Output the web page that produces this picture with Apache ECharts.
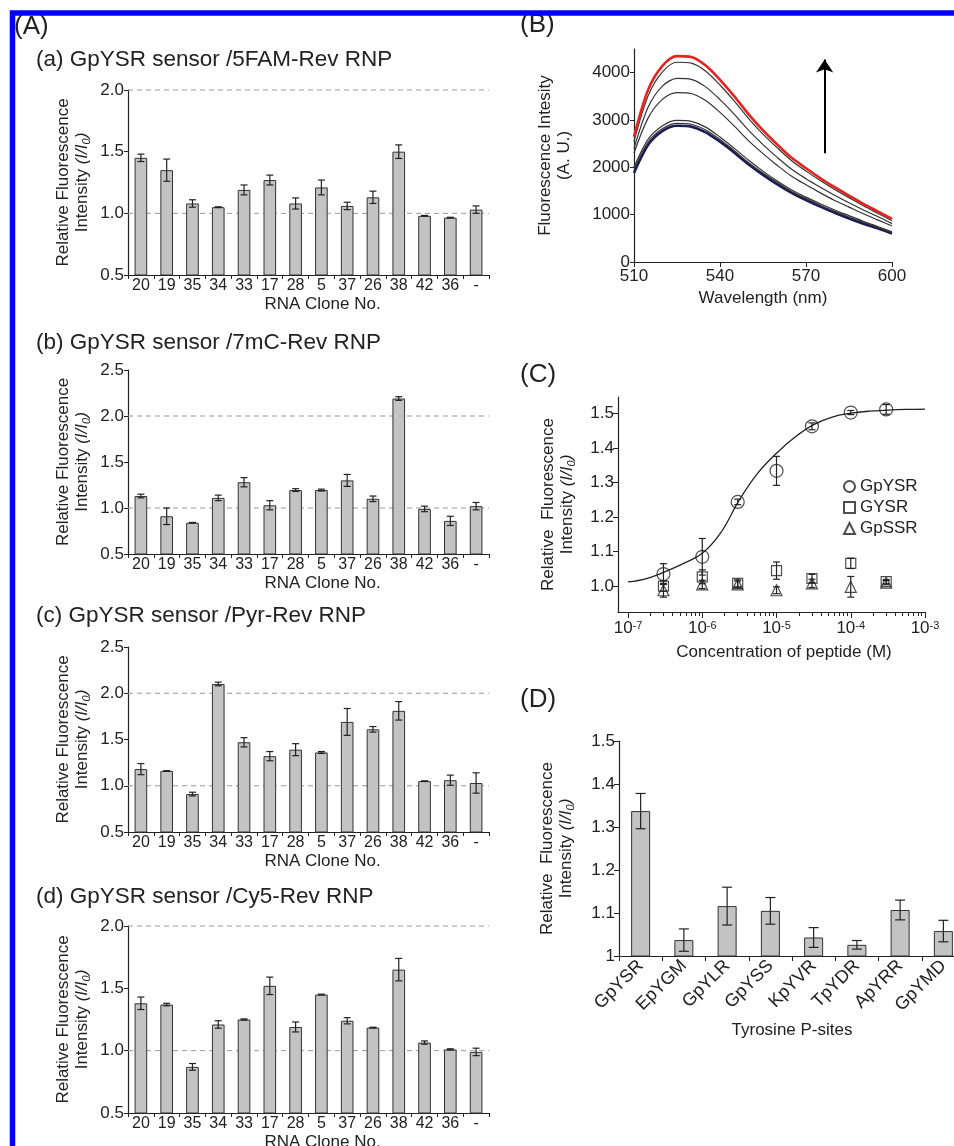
<!DOCTYPE html>
<html>
<head>
<meta charset="utf-8">
<script src="https://cdn.jsdelivr.net/npm/echarts@6/dist/echarts.min.js"></script>
<style>
  html, body { margin: 0; padding: 0; background: #fff; }
  #chart { width: 954px; height: 1146px; }
</style>
</head>
<body>
<div id="chart"></div>
<script>
// ---- (A) RNA clone screening, four sensors ----
var clones = ['20', '19', '35', '34', '33', '17', '28', '5', '37', '26', '38', '42', '36', '-'];
var famMean = [1.45, 1.35, 1.08, 1.05, 1.19, 1.27, 1.08, 1.21, 1.06, 1.13, 1.50, 0.98, 0.965, 1.03];
var famErr = [0.03, 0.09, 0.03, 0.003, 0.04, 0.04, 0.045, 0.06, 0.03, 0.05, 0.055, 0.003, 0.003, 0.03];
var mcMean = [1.13, 0.91, 0.84, 1.11, 1.28, 1.03, 1.195, 1.195, 1.30, 1.10, 2.19, 0.99, 0.86, 1.02];
var mcErr = [0.02, 0.09, 0.003, 0.03, 0.05, 0.05, 0.015, 0.01, 0.065, 0.03, 0.02, 0.03, 0.05, 0.04];
var pyrMean = [1.18, 1.16, 0.91, 2.10, 1.47, 1.32, 1.39, 1.36, 1.69, 1.61, 1.81, 1.05, 1.06, 1.03];
var pyrErr = [0.06, 0.003, 0.02, 0.02, 0.05, 0.05, 0.065, 0.01, 0.145, 0.03, 0.10, 0.003, 0.055, 0.11];
var cy5Mean = [1.38, 1.37, 0.87, 1.21, 1.25, 1.52, 1.19, 1.45, 1.24, 1.185, 1.65, 1.065, 1.01, 0.99];
var cy5Err = [0.05, 0.01, 0.027, 0.03, 0.005, 0.07, 0.04, 0.003, 0.025, 0.003, 0.09, 0.013, 0.005, 0.03];
var refLevels = [1.0, 2.0];

// ---- (B) emission spectra ----
var wavelength = [510, 515, 520, 525, 530, 535, 540, 545, 550, 555, 560, 565, 570, 575, 580, 585, 590, 595, 600];
var spec1 = [1880, 2480, 2770, 2880, 2860, 2740, 2540, 2310, 2060, 1840, 1640, 1460, 1310, 1170, 1040, 920, 810, 710, 600];
var spec2 = [1950, 2540, 2820, 2930, 2910, 2790, 2590, 2350, 2100, 1880, 1680, 1490, 1340, 1200, 1070, 950, 840, 730, 620];
var spec3 = [2000, 2600, 2880, 2990, 2970, 2850, 2640, 2400, 2150, 1920, 1710, 1520, 1370, 1230, 1100, 980, 860, 750, 640];
var spec4 = [2300, 3050, 3440, 3580, 3560, 3410, 3160, 2870, 2560, 2290, 2040, 1810, 1630, 1460, 1300, 1160, 1020, 890, 760];
var spec5 = [2400, 3280, 3720, 3880, 3860, 3700, 3430, 3120, 2780, 2480, 2210, 1960, 1760, 1580, 1410, 1250, 1100, 960, 810];
var spec6 = [2550, 3520, 4020, 4220, 4200, 4030, 3740, 3400, 3030, 2700, 2410, 2140, 1920, 1720, 1530, 1360, 1190, 1030, 870];
var spec7 = [2650, 3650, 4150, 4350, 4330, 4150, 3850, 3500, 3120, 2780, 2480, 2200, 1980, 1770, 1580, 1400, 1230, 1070, 910];
var specTicks = [0, 1000, 2000, 3000, 4000];
var arrowX = 576.5, arrowY = [2300, 4280];

// ---- (C) titration ----
var peptideConc = [3e-7, 1e-6, 3e-6, 1e-5, 3e-5, 1e-4, 3e-4];
var gpysrMean = [1.035, 1.085, 1.244, 1.334, 1.463, 1.503, 1.512];
var gpysrErr = [0.03, 0.053, 0.008, 0.042, 0.01, 0.006, 0.014];
var gysrMean = [1.0, 1.027, 1.008, 1.045, 1.022, 1.066, 1.013];
var gysrErr = [0.015, 0.02, 0.01, 0.025, 0.012, 0.015, 0.006];
var gpssrMean = [0.988, 1.005, 1.005, 0.988, 1.008, 0.998, 1.01];
var gpssrErr = [0.02, 0.012, 0.01, 0.01, 0.012, 0.03, 0.006];
var fitLogConc = [-7, -6.75, -6.5, -6.25, -6, -5.75, -5.5, -5.25, -5, -4.75, -4.5, -4.25, -4, -3.75, -3.5, -3.25, -3];
var fitValue = [1.012, 1.022, 1.042, 1.066, 1.095, 1.155, 1.25, 1.328, 1.385, 1.432, 1.468, 1.49, 1.501, 1.507, 1.51, 1.512, 1.513];
var concExp = [-7, -6, -5, -4, -3];
var riTicks = [1.0, 1.1, 1.2, 1.3, 1.4, 1.5];

// ---- (D) tyrosine P-sites ----
var sites = ['GpYSR', 'EpYGM', 'GpYLR', 'GpYSS', 'KpYVR', 'TpYDR', 'ApYRR', 'GpYMD'];
var siteMean = [1.337, 1.037, 1.116, 1.105, 1.043, 1.026, 1.107, 1.058];
var siteErr = [0.041, 0.026, 0.044, 0.031, 0.023, 0.01, 0.023, 0.025];

var FONT = '"Liberation Sans", Arial, Helvetica, sans-serif';
var INK = '#222';
var BAR = '#c3c3c3';

var myechart = echarts.init(document.getElementById('chart'));

// y axis title with italic I/I0
var riName = 'Relative Fluorescence\n{n|Intensity }{i|(I/I}{s|0}{i|)}';
var riName2 = 'Relative  Fluorescence\n{n|Intensity }{i|(I/I}{s|0}{i|)}';
var riRich = {
  n: { fontSize: 17, lineHeight: 19, color: INK },
  i: { fontSize: 17, lineHeight: 19, fontStyle: 'italic', color: INK },
  s: { fontSize: 11, lineHeight: 11, fontStyle: 'italic', verticalAlign: 'bottom', color: INK }
};

function lineStyleInk() {
  return { stroke: INK, lineWidth: 1.2, fill: null };
}

// error bar drawn through the axes of its grid
function errorBar(cap) {
  return function (params, api) {
    var x = api.value(0), m = api.value(1), e = api.value(2);
    var hi = api.coord([x, m + e]);
    var lo = api.coord([x, m - e]);
    return {
      type: 'group',
      children: [
        { type: 'line', shape: { x1: hi[0], y1: hi[1], x2: lo[0], y2: lo[1] }, style: lineStyleInk() },
        { type: 'line', shape: { x1: hi[0] - cap, y1: hi[1], x2: hi[0] + cap, y2: hi[1] }, style: lineStyleInk() },
        { type: 'line', shape: { x1: lo[0] - cap, y1: lo[1], x2: lo[0] + cap, y2: lo[1] }, style: lineStyleInk() }
      ]
    };
  };
}

// dashed reference line across the grid
function refLine(params, api) {
  var y = api.coord([0, api.value(1)])[1];
  var cs = params.coordSys;
  return {
    type: 'line',
    shape: { x1: cs.x, y1: y, x2: cs.x + cs.width, y2: y },
    style: { stroke: '#999', lineWidth: 1, lineDash: [5, 4], fill: null }
  };
}

var barPanels = [
  { title: '(a) GpYSR sensor /5FAM-Rev RNP', mean: famMean, err: famErr, max: 2.0, top: 90, height: 185, titleTop: 48 },
  { title: '(b) GpYSR sensor /7mC-Rev RNP', mean: mcMean, err: mcErr, max: 2.5, top: 370, height: 184, titleTop: 331 },
  { title: '(c) GpYSR sensor /Pyr-Rev RNP', mean: pyrMean, err: pyrErr, max: 2.5, top: 647, height: 185, titleTop: 604 },
  { title: '(d) GpYSR sensor /Cy5-Rev RNP', mean: cy5Mean, err: cy5Err, max: 2.0, top: 926, height: 187, titleTop: 885 }
];

var grid = [], xAxis = [], yAxis = [], series = [], graphic = [];

barPanels.forEach(function (p, k) {
  grid.push({ left: 128, top: p.top, width: 361, height: p.height, outerBoundsMode: 'none' });
  xAxis.push({
    type: 'category', gridIndex: k, data: clones,
    name: 'RNA Clone No.', nameLocation: 'middle', nameGap: 21,
    nameTextStyle: { fontSize: 17, color: INK, padding: [0, 0, 0, 28] },
    axisLine: { show: true, lineStyle: { color: INK, width: 1.2 } },
    axisTick: { show: true, alignWithLabel: false, length: 4, lineStyle: { color: INK } },
    axisLabel: { interval: 0, fontSize: 16, margin: 3, color: INK },
    splitLine: { show: false }
  });
  yAxis.push({
    type: 'value', gridIndex: k, min: 0.5, max: p.max, interval: 0.5,
    name: riName, nameLocation: 'middle', nameGap: 36,
    nameTextStyle: { fontSize: 17, lineHeight: 19, color: INK, rich: riRich },
    axisLine: { show: true, lineStyle: { color: INK, width: 1.2 } },
    axisTick: { show: true, length: 4, lineStyle: { color: INK } },
    axisLabel: { fontSize: 17, margin: 4, color: INK, formatter: function (v) { return v.toFixed(1); } },
    splitLine: { show: false }
  });
  series.push({
    type: 'custom', xAxisIndex: k, yAxisIndex: k, z: 1, silent: true,
    renderItem: refLine,
    data: refLevels.map(function (v) { return [0, v]; })
  });
  series.push({
    type: 'bar', xAxisIndex: k, yAxisIndex: k, z: 2, barWidth: '49%',
    itemStyle: { color: BAR, borderColor: '#333', borderWidth: 1 },
    data: p.mean
  });
  series.push({
    type: 'custom', xAxisIndex: k, yAxisIndex: k, z: 3, silent: true,
    renderItem: errorBar(3.5),
    data: p.mean.map(function (v, i) { return [i, v, p.err[i]]; })
  });
  graphic.push({ type: 'text', left: 36, top: p.titleTop, style: { text: p.title, fontSize: 22.5, fill: INK, fontFamily: FONT } });
});

// ---- (B) grid 4 ----
grid.push({ left: 634, top: 49, width: 258, height: 213, outerBoundsMode: 'none' });
xAxis.push({
  type: 'value', gridIndex: 4, min: 510, max: 600, interval: 30,
  name: 'Wavelength (nm)', nameLocation: 'middle', nameGap: 28,
  nameTextStyle: { fontSize: 17, color: INK },
  axisLine: { show: true, lineStyle: { color: INK, width: 1.2 } },
  axisTick: { show: true, length: 5, lineStyle: { color: INK } },
  axisLabel: { fontSize: 17, margin: 6, color: INK },
  splitLine: { show: false }
});
yAxis.push({
  type: 'value', gridIndex: 4, min: 0, max: 4500,
  name: 'Fluorescence Intesity\n(A. U.)', nameLocation: 'middle', nameGap: 60,
  nameTextStyle: { fontSize: 17, lineHeight: 19, color: INK },
  axisLine: { show: true, lineStyle: { color: INK, width: 1.2 } },
  axisTick: { show: true, length: 4, customValues: specTicks, lineStyle: { color: INK } },
  axisLabel: { fontSize: 17, margin: 4, color: INK, customValues: specTicks, formatter: function (v) { return String(v); } },
  splitLine: { show: false }
});
var specList = [spec1, spec2, spec3, spec4, spec5, spec6, spec7];
specList.forEach(function (s, k) {
  var color = k === 0 ? '#1b1b55' : (k === specList.length - 1 ? '#e8231f' : '#333');
  var width = (k === 0 || k === specList.length - 1) ? 2.6 : 1.2;
  var ser = {
    type: 'line', xAxisIndex: 4, yAxisIndex: 4, showSymbol: false, smooth: 0.3,
    lineStyle: { color: color, width: width }, z: k === specList.length - 1 ? 4 : 3,
    data: wavelength.map(function (w, i) { return [w, s[i]]; })
  };
  if (k === 0) {
    ser.markLine = {
      silent: true, symbol: ['none', 'arrow'], symbolSize: 13,
      label: { show: false },
      lineStyle: { color: '#000', width: 2, type: 'solid' },
      data: [[{ coord: [arrowX, arrowY[0]] }, { coord: [arrowX, arrowY[1]] }]]
    };
  }
  series.push(ser);
});

// ---- (C) grid 5, log10 concentration on x ----
var minorTicks = [];
for (var d = -7; d < -3; d++) {
  for (var m = 2; m <= 9; m++) minorTicks.push(d + Math.log10(m));
}
grid.push({ left: 618, top: 397, width: 307, height: 215, outerBoundsMode: 'none' });
xAxis.push({
  type: 'value', gridIndex: 5, min: -7.135, max: -3,
  name: 'Concentration of peptide (M)', nameLocation: 'middle', nameGap: 32,
  nameTextStyle: { fontSize: 17, color: INK, padding: [0, 0, 0, 25] },
  axisLine: { show: true, lineStyle: { color: INK, width: 1.2 } },
  axisTick: { show: true, length: 6, customValues: concExp, lineStyle: { color: INK } },
  axisLabel: {
    fontSize: 17, margin: 8, color: INK, customValues: concExp,
    formatter: function (v) { return '10{s|' + v + '}'; },
    rich: { s: { fontSize: 11, verticalAlign: 'top', lineHeight: 11, color: INK } }
  },
  splitLine: { show: false }
});
xAxis.push({
  type: 'value', gridIndex: 5, min: -7.135, max: -3, position: 'bottom',
  axisLine: { show: false },
  axisTick: { show: true, length: 4, customValues: minorTicks, lineStyle: { color: INK } },
  axisLabel: { show: false },
  splitLine: { show: false }
});
yAxis.push({
  type: 'value', gridIndex: 5, min: 0.925, max: 1.548,
  name: riName2, nameLocation: 'middle', nameGap: 41,
  nameTextStyle: { fontSize: 17, lineHeight: 19, color: INK, rich: riRich },
  axisLine: { show: true, lineStyle: { color: INK, width: 1.2 } },
  axisTick: { show: true, length: 5, customValues: riTicks, lineStyle: { color: INK } },
  axisLabel: { fontSize: 17, margin: 4, color: INK, customValues: riTicks, formatter: function (v) { return v.toFixed(1); } },
  splitLine: { show: false }
});
series.push({
  type: 'line', xAxisIndex: 5, yAxisIndex: 5, showSymbol: false, smooth: 0.4, z: 2,
  lineStyle: { color: INK, width: 1.3 },
  data: fitLogConc.map(function (x, i) { return [x, fitValue[i]]; })
});
var cSets = [
  { name: 'GpYSR', symbol: 'circle', size: 13, mean: gpysrMean, err: gpysrErr },
  { name: 'GYSR', symbol: 'rect', size: 10, mean: gysrMean, err: gysrErr },
  { name: 'GpSSR', symbol: 'triangle', size: 11, mean: gpssrMean, err: gpssrErr }
];
cSets.forEach(function (s) {
  series.push({
    name: s.name, type: 'scatter', xAxisIndex: 5, yAxisIndex: 5, z: 3,
    symbol: s.symbol, symbolSize: s.size,
    itemStyle: { color: 'rgba(255,255,255,0)', borderColor: INK, borderWidth: 1.2 },
    data: peptideConc.map(function (c, i) { return [Math.log10(c), s.mean[i]]; })
  });
  series.push({
    type: 'custom', xAxisIndex: 5, yAxisIndex: 5, z: 4, silent: true,
    renderItem: errorBar(3.5),
    data: peptideConc.map(function (c, i) { return [Math.log10(c), s.mean[i], s.err[i]]; })
  });
});

// ---- (D) grid 6 ----
grid.push({ left: 619, top: 741, width: 346, height: 215, outerBoundsMode: 'none' });
xAxis.push({
  type: 'category', gridIndex: 6, data: sites,
  name: 'Tyrosine P-sites', nameLocation: 'middle', nameGap: 66,
  nameTextStyle: { fontSize: 17, color: INK },
  axisLine: { show: true, lineStyle: { color: INK, width: 1.2 } },
  axisTick: { show: true, alignWithLabel: false, length: 5, lineStyle: { color: INK } },
  axisLabel: { interval: 0, rotate: 45, fontSize: 18, margin: 7, color: INK },
  splitLine: { show: false }
});
yAxis.push({
  type: 'value', gridIndex: 6, min: 1, max: 1.5, interval: 0.1,
  name: riName2, nameLocation: 'middle', nameGap: 43,
  nameTextStyle: { fontSize: 17, lineHeight: 19, color: INK, rich: riRich },
  axisLine: { show: true, lineStyle: { color: INK, width: 1.2 } },
  axisTick: { show: true, length: 5, lineStyle: { color: INK } },
  axisLabel: { fontSize: 17, margin: 4, color: INK },
  splitLine: { show: false }
});
series.push({
  type: 'bar', xAxisIndex: 7, yAxisIndex: 6, z: 2, barWidth: '44%',
  itemStyle: { color: BAR, borderColor: '#333', borderWidth: 1 },
  data: siteMean
});
series.push({
  type: 'custom', xAxisIndex: 7, yAxisIndex: 6, z: 3, silent: true,
  renderItem: errorBar(5),
  data: siteMean.map(function (v, i) { return [i, v, siteErr[i]]; })
});

// panel letters and frame
[['(A)', 14, 14], ['(B)', 520, 12], ['(C)', 520, 362], ['(D)', 520, 687]].forEach(function (t) {
  graphic.push({ type: 'text', left: t[1], top: t[2], style: { text: t[0], fontSize: 26, fill: INK, fontFamily: FONT } });
});
graphic.push({
  type: 'rect', z: 100, silent: true,
  shape: { x: 12.5, y: 13, width: 1000, height: 1200 },
  style: { fill: 'none', stroke: '#0000ff', lineWidth: 5.5 }
});

var option = {
  animation: false,
  backgroundColor: '#fff',
  textStyle: { fontFamily: FONT, color: INK },
  legend: {
    left: 838, top: 473, orient: 'vertical', itemGap: 4, itemWidth: 11, itemHeight: 11,
    textStyle: { fontSize: 17, color: INK },
    selectedMode: false,
    data: [
      { name: 'GpYSR', icon: 'circle' },
      { name: 'GYSR', icon: 'rect' },
      { name: 'GpSSR', icon: 'triangle' }
    ]
  },
  grid: grid,
  xAxis: xAxis,
  yAxis: yAxis,
  series: series,
  graphic: graphic
};
myechart.setOption(option);
</script>
</body>
</html>
